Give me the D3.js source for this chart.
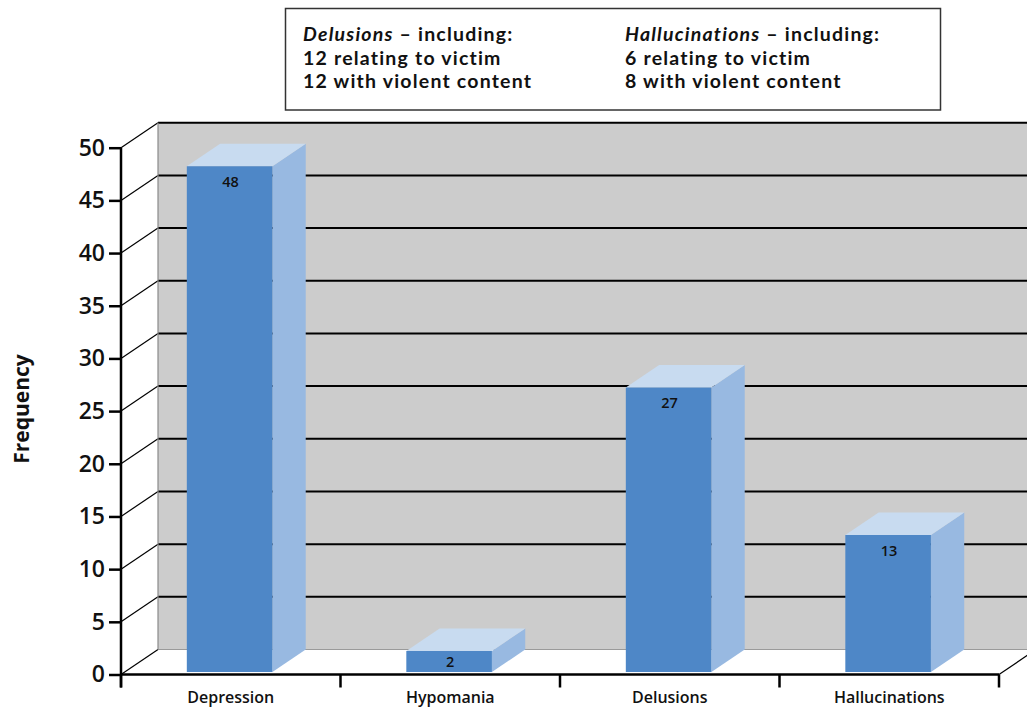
<!DOCTYPE html>
<html>
<head>
<meta charset="utf-8">
<script src="https://cdn.jsdelivr.net/npm/d3@7"></script>
<style>
  html, body { margin: 0; padding: 0; background: #fff; }
  svg { display: block; }
  text { font-family: "Open Sans", "Noto Sans", sans-serif; }
  .note { font-family: Lato, "Open Sans", sans-serif; letter-spacing: 1.2px; }
</style>
</head>
<body>
<script>
// Categories and frequencies
const categories = ["Depression", "Hypomania", "Delusions", "Hallucinations"];
const frequencies = [48, 2, 27, 13];
const yTicks = [0, 5, 10, 15, 20, 25, 30, 35, 40, 45, 50];
const yTitle = "Frequency";

// Note box lines
const noteLeftHead = ["Delusions", " – including:"];
const noteLeftLines = ["12 relating to victim", "12 with violent content"];
const noteRightHead = ["Hallucinations", " – including:"];
const noteRightLines = ["6 relating to victim", "8 with violent content"];

const W = 1027, H = 709;
const svg = d3.select("body").append("svg").attr("width", W).attr("height", H);

// Oblique projection: depth 0 = front plane, depth 1 = back wall
const DX = 37, DY = -25;
const x = d3.scaleBand().domain(categories).range([121, 999]).paddingInner(0).paddingOuter(0);
const y = d3.scaleLinear().domain([0, 50]).range([674.5, 147.7]);
const P = (px, py, z) => [px + DX * z, py + DY * z];
const poly = pts => "M" + pts.map(p => p.join(",")).join("L") + "Z";

const x0 = x.range()[0], x1 = x.range()[1];
const wallRight = W + 10;

// Back wall
svg.append("path")
  .attr("d", poly([P(x0, y(50), 1), [wallRight, y(50) + DY], [wallRight, y(0) + DY], P(x0, y(0), 1)]))
  .attr("fill", "#cccccc");

// Back wall gridlines and side wall diagonals
const g = svg.append("g");
yTicks.forEach(v => {
  const [bx, by] = P(x0, y(v), 1);
  const isBottom = v === 0;
  g.append("line")
    .attr("x1", bx).attr("y1", by).attr("x2", wallRight).attr("y2", by)
    .attr("stroke", isBottom ? "#9a9a9a" : "#000")
    .attr("stroke-width", isBottom ? 1 : 2);
  g.append("line")
    .attr("x1", x0).attr("y1", y(v)).attr("x2", bx).attr("y2", by)
    .attr("stroke", "#000").attr("stroke-width", 1.2);
});
// left edge of back wall
svg.append("line")
  .attr("x1", x0 + DX).attr("y1", y(50) + DY).attr("x2", x0 + DX).attr("y2", y(0) + DY)
  .attr("stroke", "#8a8a8a").attr("stroke-width", 1.2);
// right floor edge
svg.append("line")
  .attr("x1", x1).attr("y1", y(0)).attr("x2", x1 + DX).attr("y2", y(0) + DY)
  .attr("stroke", "#000").attr("stroke-width", 1.2);

// Bars
const Z0 = 0.1, Z1 = 1.0;
const bw = x.bandwidth();
const bars = svg.append("g");
categories.forEach((c, i) => {
  const v = frequencies[i];
  const L = x(c) + bw * 0.283, R = L + bw * 0.39;
  const top = y(v), bot = y(0);
  // side face
  bars.append("path")
    .attr("d", poly([P(R, top, Z0), P(R, top, Z1), P(R, bot, Z1), P(R, bot, Z0)]))
    .attr("fill", "#98b9e1");
  // top face
  bars.append("path")
    .attr("d", poly([P(L, top, Z0), P(L, top, Z1), P(R, top, Z1), P(R, top, Z0)]))
    .attr("fill", "#c8dbf0");
  // front face
  bars.append("path")
    .attr("d", poly([P(L, top, Z0), P(R, top, Z0), P(R, bot, Z0), P(L, bot, Z0)]))
    .attr("fill", "#4e87c7");
  // value label
  const [fx, fyTop] = P((L + R) / 2, top, Z0);
  const fyBot = P(0, bot, Z0)[1];
  const ly = Math.min(fyTop + 15, (fyTop + fyBot) / 2);
  bars.append("text")
    .attr("x", fx + 1).attr("y", ly)
    .attr("text-anchor", "middle").attr("dominant-baseline", "central")
    .attr("font-size", 14.5).attr("font-weight", 600).attr("fill", "#111")
    .text(v);
});

// Vertical axis
const yAxis = d3.axisLeft(y).tickValues(yTicks).tickSize(12).tickPadding(4);
const ya = svg.append("g").attr("transform", `translate(${x0},0)`).call(yAxis);
ya.select(".domain").remove();
ya.selectAll(".tick line").attr("stroke", "#000").attr("stroke-width", 2.5);
ya.selectAll(".tick text")
  .attr("font-size", 23).attr("font-weight", 600).attr("fill", "#111")
  .style("font-family", '"Open Sans", sans-serif');
svg.append("line")
  .attr("x1", x0).attr("y1", y(50)).attr("x2", x0).attr("y2", y(0) + 13)
  .attr("stroke", "#000").attr("stroke-width", 2.5);

// Category axis
const xAxis = d3.axisBottom(x).tickSize(0).tickPadding(17);
const xa = svg.append("g").attr("transform", `translate(0,${y(0)})`).call(xAxis);
xa.select(".domain").remove();
xa.selectAll(".tick text")
  .attr("font-size", 16).attr("font-weight", 600).attr("fill", "#111")
  .style("font-family", '"Open Sans", sans-serif');
svg.append("line")
  .attr("x1", x0).attr("y1", y(0)).attr("x2", x1).attr("y2", y(0))
  .attr("stroke", "#000").attr("stroke-width", 2.5);
categories.map(c => x(c)).concat([x1]).forEach(tx => {
  svg.append("line")
    .attr("x1", tx).attr("y1", y(0)).attr("x2", tx).attr("y2", y(0) + 13)
    .attr("stroke", "#000").attr("stroke-width", 2.5);
});

// Axis title
svg.append("text")
  .attr("transform", "translate(21,409) rotate(-90)")
  .attr("text-anchor", "middle").attr("dominant-baseline", "central")
  .attr("font-size", 21).attr("font-weight", 700).attr("fill", "#111")
  .text(yTitle);

// Note box
svg.append("rect")
  .attr("x", 285.5).attr("y", 8.5).attr("width", 655).attr("height", 101.5)
  .attr("fill", "#fff").attr("stroke", "#333").attr("stroke-width", 1.5);

// Each note column: heading plus two lines
function noteColumn(tx, head, lines) {
  const t = svg.append("text").attr("class", "note").attr("x", tx).attr("y", 41)
    .attr("font-size", 19.5).attr("font-weight", 700).attr("fill", "#111");
  t.append("tspan").attr("font-style", "italic").text(head[0]);
  t.append("tspan").text(head[1]);
  lines.forEach((s, i) => {
    svg.append("text").attr("class", "note").attr("x", tx).attr("y", 64.5 + i * 23.5)
      .attr("font-size", 19.5).attr("font-weight", 700).attr("fill", "#111")
      .text(s);
  });
}
noteColumn(303, noteLeftHead, noteLeftLines);
noteColumn(625, noteRightHead, noteRightLines);
</script>
</body>
</html>
